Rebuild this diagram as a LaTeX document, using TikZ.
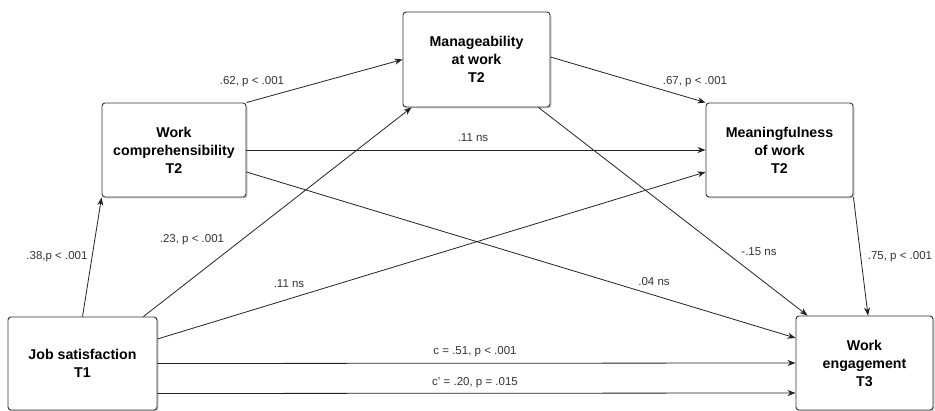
\documentclass[tikz,border=0pt]{standalone}
\usepackage{fontspec}
\setmainfont{Liberation Sans}
\usetikzlibrary{arrows.meta,shadows}
\definecolor{edge}{HTML}{222222}
\definecolor{boxline}{HTML}{333333}
\definecolor{lbl}{HTML}{333333}
\begin{document}
\begin{tikzpicture}[x=1pt,y=-1pt,
  box/.style={draw=boxline, line width=0.9pt, rounded corners=3pt, fill=white,
    align=center, inner sep=0pt,
    font=\fontsize{14.2}{18}\selectfont\bfseries,
    drop shadow={shadow xshift=1.5pt, shadow yshift=-1.5pt, fill=black!40, opacity=0.45}},
  conn/.style={draw=edge, line width=0.8pt, -{Stealth[length=8pt,width=6pt,inset=2.5pt]}},
  lab/.style={text=lbl, inner sep=0pt, font=\fontsize{11.5}{13}\selectfont}]
\useasboundingbox (0,0) rectangle (935,411);

\node[box, minimum width=149pt, minimum height=93pt] (js) at (82.5,363.5) {Job satisfaction\\T1};
\node[box, minimum width=144pt, minimum height=94pt] (wc) at (174,150) {Work\\comprehensibility\\T2};
\node[box, minimum width=147pt, minimum height=95pt] (ma) at (476.5,59.5) {Manageability\\at work\\T2};
\node[box, minimum width=147pt, minimum height=94pt] (mf) at (779.5,150) {Meaningfulness\\of work\\T2};
\node[box, minimum width=137pt, minimum height=94pt] (we) at (864.5,363) {Work\\engagement\\T3};

% connectors
\draw[conn] (js.north) -- (wc.south west);
\draw[conn] ([xshift=-14pt]js.north east) -- ([xshift=9pt]ma.south west);
\draw[conn] ([yshift=24.5pt]js.east) -- ([yshift=-22pt]mf.west);
\draw[conn] (js.east) -- (we.west);
\draw[conn] ([yshift=-30pt]js.east) -- ([yshift=-30pt]we.west);
\draw[conn] (wc.north east) -- (ma.west);
\draw[conn] (wc.east) -- (mf.west);
\draw[conn] ([yshift=-22pt]wc.east) -- ([yshift=25pt]we.west);
\draw[conn] ([yshift=2.5pt]ma.east) -- (mf.north west);
\draw[conn] ([xshift=-12pt]ma.south east) -- ([xshift=12pt]we.north west);
\draw[conn] (mf.south east) -- ([xshift=3.5pt]we.north);

% labels
\node[lab] (l1) at (252,82) {.62, p < .001};
\node[lab] (l2) at (695,82) {.67, p < .001};
\node[lab] (l3) at (473,138) {.11 ns};
\node[lab] (l4) at (57,257) {.38,p < .001};
\node[lab] (l5) at (192,240) {.23, p < .001};
\node[lab] (l6) at (289,284) {.11 ns};
\node[lab] (l7) at (654,282) {.04 ns};
\node[lab] (l8) at (759,252) {-.15 ns};
\node[lab] (l9) at (900,257) {.75, p < .001};
\node[lab] (l10) at (475,352) {c = .51, p < .001};
\node[lab] (l11) at (475,383) {c' = .20, p = .015};
\end{tikzpicture}
\end{document}
